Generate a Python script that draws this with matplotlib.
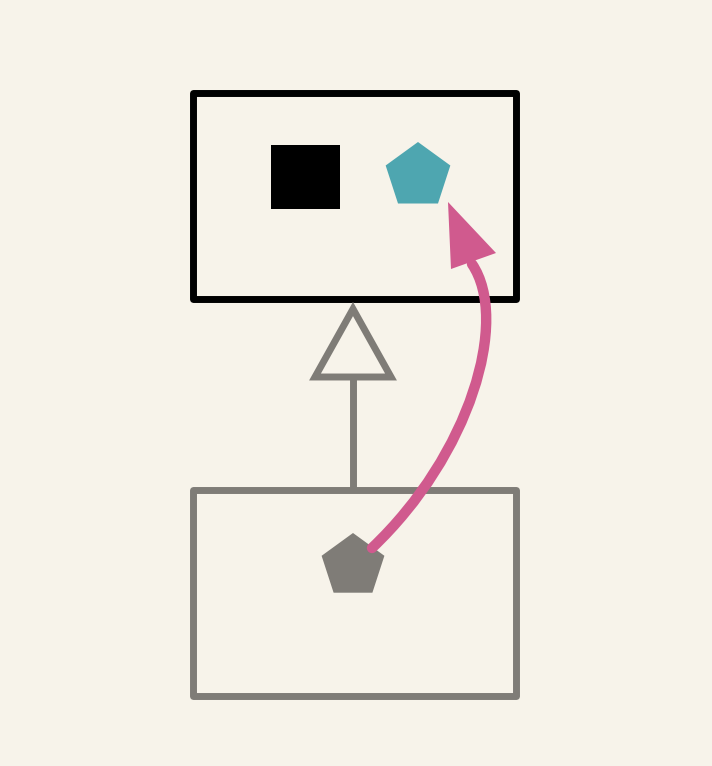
import matplotlib
matplotlib.use('Agg')
import matplotlib.pyplot as plt
from matplotlib.patches import Rectangle, RegularPolygon, Polygon, PathPatch
from matplotlib.path import Path

# geometry in pixel units (y grows downward)
BG = '#f7f3ea'
GRAY = '#7f7c77'
TEAL = '#4ea6b0'
PINK = '#d05a8e'

top_box = (192.5, 93, 323, 206)      # x, y, w, h
bottom_box = (192.5, 490, 323, 206)
square = (271, 145, 69, 64)
teal_pent = (418, 176, 34)          # cx, cy, radius
gray_pent = (353, 566, 33)
triangle = [(353, 309), (315, 377), (391, 377)]
stem = [(353, 377), (353, 490)]
curve = [(372, 548), (470, 455), (510, 320), (472, 264)]
head = [(448, 202), (496, 253), (451, 269)]

fig = plt.figure(figsize=(7.12, 7.66), dpi=100, facecolor=BG)
ax = fig.add_axes([0, 0, 1, 1])
ax.set_xlim(0, 712)
ax.set_ylim(766, 0)
ax.set_facecolor(BG)
ax.axis('off')

x, y, w, h = top_box
ax.add_patch(Rectangle((x, y), w, h, fill=False, ec='black', lw=5, joinstyle='round'))
x, y, w, h = bottom_box
ax.add_patch(Rectangle((x, y), w, h, fill=False, ec=GRAY, lw=5, joinstyle='round'))
x, y, w, h = square
ax.add_patch(Rectangle((x, y), w, h, fc='black', ec='none'))

cx, cy, r = teal_pent
ax.add_patch(RegularPolygon((cx, cy), 5, radius=r, orientation=3.14159265, fc=TEAL, ec='none'))
cx, cy, r = gray_pent
ax.add_patch(RegularPolygon((cx, cy), 5, radius=r, orientation=3.14159265, fc=GRAY, ec='none'))

ax.plot([p[0] for p in stem], [p[1] for p in stem], color=GRAY, lw=5, solid_capstyle='butt')
ax.add_patch(Polygon(triangle, closed=True, fill=True, fc=BG, ec=GRAY, lw=5, joinstyle='miter'))

# pink curved arrow
path = Path(curve, [Path.MOVETO, Path.CURVE4, Path.CURVE4, Path.CURVE4])
ax.add_patch(PathPatch(path, fill=False, ec=PINK, lw=7.5, capstyle='round'))
ax.add_patch(Polygon(head, closed=True, fc=PINK, ec='none'))

fig.savefig('out.png', dpi=100, facecolor=BG)
